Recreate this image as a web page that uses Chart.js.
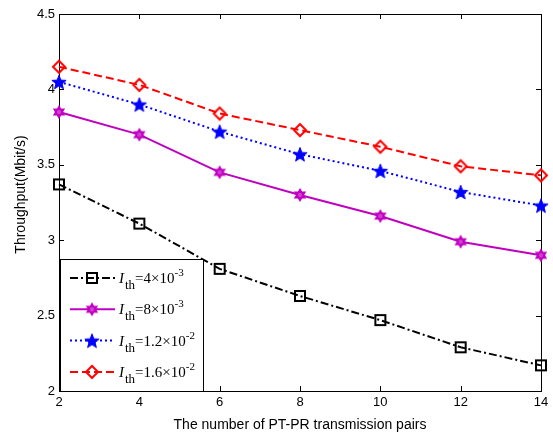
<!DOCTYPE html>
<html>
<head>
<meta charset="utf-8">
<script src="https://cdn.jsdelivr.net/npm/chart.js@4/dist/chart.umd.min.js"></script>
<style>
  html, body { margin: 0; padding: 0; background: #fff; }
  #wrap { width: 553px; height: 436px; position: relative; }
</style>
</head>
<body>
<div id="wrap"><canvas id="c" width="553" height="436"></canvas></div>
<script>
// Number of PT-PR transmission pairs
const pairs = [2, 4, 6, 8, 10, 12, 14];

// Throughput (Mbit/s) for each interference threshold I_th
const thr4e3   = [3.37, 3.11, 2.81, 2.63, 2.47, 2.29, 2.17];
const thr8e3   = [3.85, 3.70, 3.45, 3.30, 3.16, 2.99, 2.90];
const thr12e2  = [4.05, 3.90, 3.72, 3.57, 3.46, 3.32, 3.23];
const thr16e2  = [4.15, 4.03, 3.84, 3.73, 3.62, 3.49, 3.43];

// Legend text pieces: mantissa and exponent of each threshold
const legendValues = ['4', '8', '1.2', '1.6'];
const legendExps   = ['-3', '-3', '-2', '-2'];

const yTicks = [2, 2.5, 3, 3.5, 4, 4.5];
const xTicks = [2, 4, 6, 8, 10, 12, 14];

// ---- marker images ----
function markerCanvas(draw) {
  const c = document.createElement('canvas');
  c.width = 18; c.height = 18;
  const g = c.getContext('2d');
  g.translate(9, 9);
  draw(g);
  return c;
}
const mkSquare = markerCanvas(g => {
  g.strokeStyle = '#000'; g.lineWidth = 2;
  g.strokeRect(-5, -5, 10, 10);
});
const mkHexagram = markerCanvas(g => {
  const r = 5.6;
  g.beginPath();
  for (let t = 0; t < 2; t++) {
    const off = t === 0 ? -Math.PI / 2 : Math.PI / 2;
    for (let i = 0; i < 3; i++) {
      const a = off + i * 2 * Math.PI / 3;
      const x = r * Math.cos(a), y = r * Math.sin(a);
      if (i === 0) g.moveTo(x, y); else g.lineTo(x, y);
    }
    g.closePath();
  }
  g.fillStyle = '#d040d0';
  g.fill();
  g.strokeStyle = '#c000c0'; g.lineWidth = 1.5;
  g.stroke();
});
const mkStar = markerCanvas(g => {
  const R = 7.5, r = 3.2;
  g.beginPath();
  for (let i = 0; i < 10; i++) {
    const a = -Math.PI / 2 + i * Math.PI / 5;
    const rr = i % 2 === 0 ? R : r;
    const x = rr * Math.cos(a), y = rr * Math.sin(a) + 0.8;
    if (i === 0) g.moveTo(x, y); else g.lineTo(x, y);
  }
  g.closePath();
  g.fillStyle = '#0000ff'; g.fill();
  g.strokeStyle = '#0000ff'; g.lineWidth = 1; g.stroke();
});
const mkDiamond = markerCanvas(g => {
  g.strokeStyle = '#ff0000'; g.lineWidth = 2;
  g.beginPath();
  g.moveTo(0, -6); g.lineTo(6, 0); g.lineTo(0, 6); g.lineTo(-6, 0);
  g.closePath(); g.stroke();
});

const series = [
  { data: thr4e3,  color: '#000000', dash: [8, 3, 2, 3], marker: mkSquare },
  { data: thr8e3,  color: '#c000c0', dash: [],           marker: mkHexagram },
  { data: thr12e2, color: '#0000ff', dash: [2, 3],       marker: mkStar },
  { data: thr16e2, color: '#ff0000', dash: [8, 4],       marker: mkDiamond },
];

const FONT_TITLE = '14px "Liberation Sans", Arial, sans-serif';

// Box, inward ticks, axis titles and the legend
const framePlugin = {
  id: 'frame',
  afterDatasetsDraw(chart) {
    const { ctx, chartArea: a, scales: { x, y } } = chart;
    ctx.save();
    ctx.strokeStyle = '#000';
    ctx.lineWidth = 1;
    // inward ticks on all four sides
    ctx.beginPath();
    xTicks.forEach(v => {
      const px = Math.round(x.getPixelForValue(v)) + 0.5;
      ctx.moveTo(px, a.bottom); ctx.lineTo(px, a.bottom - 5);
      ctx.moveTo(px, a.top); ctx.lineTo(px, a.top + 5);
    });
    yTicks.forEach(v => {
      const py = Math.round(y.getPixelForValue(v)) + 0.5;
      ctx.moveTo(a.left, py); ctx.lineTo(a.left + 5, py);
      ctx.moveTo(a.right, py); ctx.lineTo(a.right - 5, py);
    });
    ctx.stroke();

    // legend box
    const lx = a.left + 1, ly = 259, lw = 143, lh = a.bottom - ly;
    ctx.fillStyle = '#fff';
    ctx.fillRect(lx, ly, lw, lh);
    ctx.strokeRect(lx + 0.5, ly + 0.5, lw, lh);
    series.forEach((s, i) => {
      const cy = 278 + i * 31.3;
      ctx.save();
      ctx.strokeStyle = s.color; ctx.lineWidth = 2;
      ctx.setLineDash(s.dash);
      ctx.beginPath(); ctx.moveTo(70, cy); ctx.lineTo(115, cy); ctx.stroke();
      ctx.restore();
      ctx.drawImage(s.marker, 92 - 9, cy - 9);
      // I_th = value × 10^exp
      ctx.fillStyle = '#000';
      ctx.textBaseline = 'alphabetic';
      let tx = 119;
      const base = cy + 5;
      ctx.font = 'italic 15px "Liberation Serif", "Times New Roman", serif';
      ctx.fillText('I', tx, base); tx += ctx.measureText('I').width + 1;
      ctx.font = '13px "Liberation Serif", "Times New Roman", serif';
      ctx.fillText('th', tx, base + 6); tx += ctx.measureText('th').width;
      ctx.font = '15px "Liberation Serif", "Times New Roman", serif';
      const main = '=' + legendValues[i] + '\u00d710';
      ctx.fillText(main, tx, base); tx += ctx.measureText(main).width;
      ctx.font = '11px "Liberation Serif", "Times New Roman", serif';
      ctx.fillText(legendExps[i], tx, base - 7);
    });

    // axis titles
    ctx.fillStyle = '#000';
    ctx.font = FONT_TITLE;
    ctx.textAlign = 'center';
    ctx.textBaseline = 'alphabetic';
    ctx.fillText('The number of PT-PR transmission pairs', (a.left + a.right) / 2, 429);
    ctx.translate(25, (a.top + a.bottom) / 2 - 8);
    ctx.rotate(-Math.PI / 2);
    ctx.fillText('Throughput(Mbit/s)', 0, 0);
    ctx.restore();
  }
};

new Chart(document.getElementById('c'), {
  type: 'line',
  data: {
    datasets: series.map((s, i) => ({
      label: 'I_th ' + legendValues[i] + 'e' + legendExps[i],
      data: pairs.map((p, k) => ({ x: p, y: s.data[k] })),
      borderColor: s.color,
      borderWidth: 2,
      borderDash: s.dash,
      pointStyle: s.marker,
      pointRadius: 6,
      pointHoverRadius: 6,
      backgroundColor: 'transparent',
      tension: 0,
      fill: false,
      clip: false,
    })),
  },
  options: {
    responsive: false,
    animation: false,
    events: [],
    layout: { padding: { top: 14, right: 12, left: 0, bottom: 0 } },
    plugins: { legend: { display: false }, tooltip: { enabled: false } },
    scales: {
      x: {
        type: 'linear', min: 2, max: 14,
        afterBuildTicks: s => { s.ticks = xTicks.map(v => ({ value: v })); },
        afterFit: s => { s.height = 45; },
        grid: { display: false, drawTicks: false },
        border: { display: true, color: '#000', width: 1 },
        ticks: { color: '#000', font: { family: '"Liberation Sans", Arial, sans-serif', size: 13 }, padding: 4, maxRotation: 0, callback: v => String(v) },
      },
      y: {
        type: 'linear', min: 2, max: 4.5,
        afterBuildTicks: s => { s.ticks = yTicks.map(v => ({ value: v })); },
        afterFit: s => { s.width = 59; },
        grid: { display: false, drawTicks: false },
        border: { display: true, color: '#000', width: 1 },
        ticks: { color: '#000', font: { family: '"Liberation Sans", Arial, sans-serif', size: 13 }, padding: 4, callback: v => String(v) },
      },
    },
  },
  plugins: [framePlugin, {
    id: 'boxEdges',
    beforeDatasetsDraw(chart) {
      const { ctx, chartArea: a } = chart;
      ctx.save();
      ctx.strokeStyle = '#000'; ctx.lineWidth = 1;
      ctx.strokeRect(Math.round(a.left) + 0.5, Math.round(a.top) + 0.5, Math.round(a.right - a.left), Math.round(a.bottom - a.top));
      ctx.restore();
    }
  }],
});
</script>
</body>
</html>
